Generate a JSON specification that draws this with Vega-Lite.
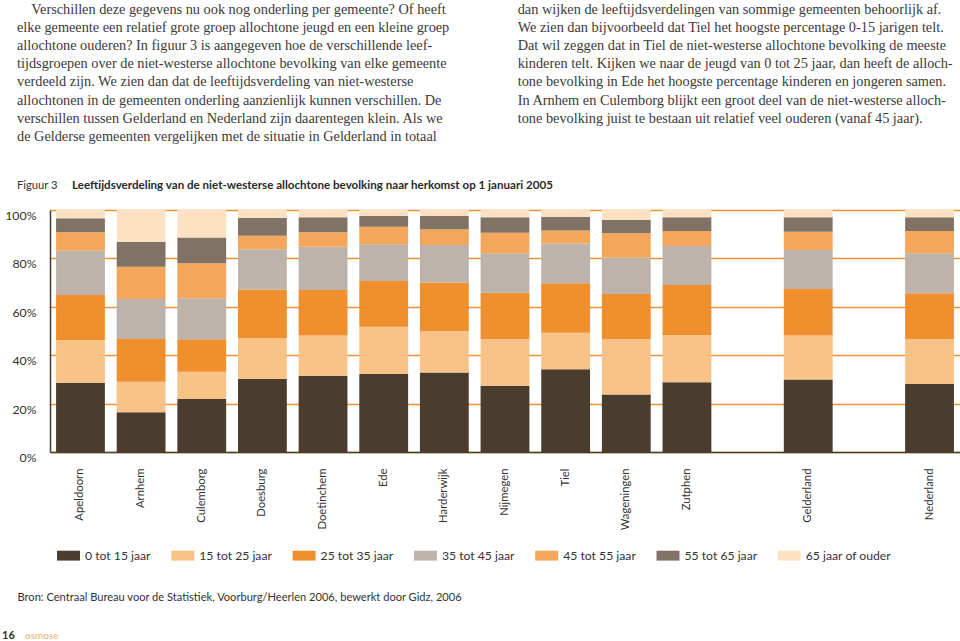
{
  "$schema": "https://vega.github.io/schema/vega-lite/v6.json",
  "width": 910,
  "height": 242,
  "autosize": {"type": "none"},
  "padding": {"left": 50, "top": 210, "right": 0, "bottom": 189},
  "background": "white",
  "config": {"view": {"stroke": null}},
  "datasets": {
    "balken": [
      {"gemeente": "Apeldoorn", "leeftijd": "0 tot 15 jaar", "percentage": 28.6},
      {"gemeente": "Apeldoorn", "leeftijd": "15 tot 25 jaar", "percentage": 17.7},
      {"gemeente": "Apeldoorn", "leeftijd": "25 tot 35 jaar", "percentage": 18.6},
      {"gemeente": "Apeldoorn", "leeftijd": "35 tot 45 jaar", "percentage": 18.3},
      {"gemeente": "Apeldoorn", "leeftijd": "45 tot 55 jaar", "percentage": 7.6},
      {"gemeente": "Apeldoorn", "leeftijd": "55 tot 65 jaar", "percentage": 5.8},
      {"gemeente": "Apeldoorn", "leeftijd": "65 jaar of ouder", "percentage": 3.4},
      {"gemeente": "Arnhem", "leeftijd": "0 tot 15 jaar", "percentage": 16.4},
      {"gemeente": "Arnhem", "leeftijd": "15 tot 25 jaar", "percentage": 12.6},
      {"gemeente": "Arnhem", "leeftijd": "25 tot 35 jaar", "percentage": 17.7},
      {"gemeente": "Arnhem", "leeftijd": "35 tot 45 jaar", "percentage": 16.5},
      {"gemeente": "Arnhem", "leeftijd": "45 tot 55 jaar", "percentage": 13.4},
      {"gemeente": "Arnhem", "leeftijd": "55 tot 65 jaar", "percentage": 10.3},
      {"gemeente": "Arnhem", "leeftijd": "65 jaar of ouder", "percentage": 13.1},
      {"gemeente": "Culemborg", "leeftijd": "0 tot 15 jaar", "percentage": 21.9},
      {"gemeente": "Culemborg", "leeftijd": "15 tot 25 jaar", "percentage": 11.3},
      {"gemeente": "Culemborg", "leeftijd": "25 tot 35 jaar", "percentage": 13.4},
      {"gemeente": "Culemborg", "leeftijd": "35 tot 45 jaar", "percentage": 16.9},
      {"gemeente": "Culemborg", "leeftijd": "45 tot 55 jaar", "percentage": 14.5},
      {"gemeente": "Culemborg", "leeftijd": "55 tot 65 jaar", "percentage": 10.6},
      {"gemeente": "Culemborg", "leeftijd": "65 jaar of ouder", "percentage": 11.4},
      {"gemeente": "Doesburg", "leeftijd": "0 tot 15 jaar", "percentage": 30.2},
      {"gemeente": "Doesburg", "leeftijd": "15 tot 25 jaar", "percentage": 16.8},
      {"gemeente": "Doesburg", "leeftijd": "25 tot 35 jaar", "percentage": 20.2},
      {"gemeente": "Doesburg", "leeftijd": "35 tot 45 jaar", "percentage": 16.6},
      {"gemeente": "Doesburg", "leeftijd": "45 tot 55 jaar", "percentage": 5.6},
      {"gemeente": "Doesburg", "leeftijd": "55 tot 65 jaar", "percentage": 7.4},
      {"gemeente": "Doesburg", "leeftijd": "65 jaar of ouder", "percentage": 3.2},
      {"gemeente": "Doetinchem", "leeftijd": "0 tot 15 jaar", "percentage": 31.5},
      {"gemeente": "Doetinchem", "leeftijd": "15 tot 25 jaar", "percentage": 16.6},
      {"gemeente": "Doetinchem", "leeftijd": "25 tot 35 jaar", "percentage": 18.8},
      {"gemeente": "Doetinchem", "leeftijd": "35 tot 45 jaar", "percentage": 17.9},
      {"gemeente": "Doetinchem", "leeftijd": "45 tot 55 jaar", "percentage": 6.0},
      {"gemeente": "Doetinchem", "leeftijd": "55 tot 65 jaar", "percentage": 6.2},
      {"gemeente": "Doetinchem", "leeftijd": "65 jaar of ouder", "percentage": 3.0},
      {"gemeente": "Ede", "leeftijd": "0 tot 15 jaar", "percentage": 32.2},
      {"gemeente": "Ede", "leeftijd": "15 tot 25 jaar", "percentage": 19.6},
      {"gemeente": "Ede", "leeftijd": "25 tot 35 jaar", "percentage": 18.9},
      {"gemeente": "Ede", "leeftijd": "35 tot 45 jaar", "percentage": 15.1},
      {"gemeente": "Ede", "leeftijd": "45 tot 55 jaar", "percentage": 7.3},
      {"gemeente": "Ede", "leeftijd": "55 tot 65 jaar", "percentage": 4.4},
      {"gemeente": "Ede", "leeftijd": "65 jaar of ouder", "percentage": 2.5},
      {"gemeente": "Harderwijk", "leeftijd": "0 tot 15 jaar", "percentage": 32.9},
      {"gemeente": "Harderwijk", "leeftijd": "15 tot 25 jaar", "percentage": 17.1},
      {"gemeente": "Harderwijk", "leeftijd": "25 tot 35 jaar", "percentage": 20.0},
      {"gemeente": "Harderwijk", "leeftijd": "35 tot 45 jaar", "percentage": 15.5},
      {"gemeente": "Harderwijk", "leeftijd": "45 tot 55 jaar", "percentage": 6.5},
      {"gemeente": "Harderwijk", "leeftijd": "55 tot 65 jaar", "percentage": 5.5},
      {"gemeente": "Harderwijk", "leeftijd": "65 jaar of ouder", "percentage": 2.5},
      {"gemeente": "Nijmegen", "leeftijd": "0 tot 15 jaar", "percentage": 27.4},
      {"gemeente": "Nijmegen", "leeftijd": "15 tot 25 jaar", "percentage": 19.2},
      {"gemeente": "Nijmegen", "leeftijd": "25 tot 35 jaar", "percentage": 19.2},
      {"gemeente": "Nijmegen", "leeftijd": "35 tot 45 jaar", "percentage": 16.3},
      {"gemeente": "Nijmegen", "leeftijd": "45 tot 55 jaar", "percentage": 8.5},
      {"gemeente": "Nijmegen", "leeftijd": "55 tot 65 jaar", "percentage": 6.4},
      {"gemeente": "Nijmegen", "leeftijd": "65 jaar of ouder", "percentage": 3.0},
      {"gemeente": "Tiel", "leeftijd": "0 tot 15 jaar", "percentage": 34.2},
      {"gemeente": "Tiel", "leeftijd": "15 tot 25 jaar", "percentage": 15.1},
      {"gemeente": "Tiel", "leeftijd": "25 tot 35 jaar", "percentage": 20.4},
      {"gemeente": "Tiel", "leeftijd": "35 tot 45 jaar", "percentage": 16.5},
      {"gemeente": "Tiel", "leeftijd": "45 tot 55 jaar", "percentage": 5.3},
      {"gemeente": "Tiel", "leeftijd": "55 tot 65 jaar", "percentage": 5.7},
      {"gemeente": "Tiel", "leeftijd": "65 jaar of ouder", "percentage": 2.8},
      {"gemeente": "Wageningen", "leeftijd": "0 tot 15 jaar", "percentage": 23.8},
      {"gemeente": "Wageningen", "leeftijd": "15 tot 25 jaar", "percentage": 22.8},
      {"gemeente": "Wageningen", "leeftijd": "25 tot 35 jaar", "percentage": 18.7},
      {"gemeente": "Wageningen", "leeftijd": "35 tot 45 jaar", "percentage": 15.1},
      {"gemeente": "Wageningen", "leeftijd": "45 tot 55 jaar", "percentage": 10.0},
      {"gemeente": "Wageningen", "leeftijd": "55 tot 65 jaar", "percentage": 5.5},
      {"gemeente": "Wageningen", "leeftijd": "65 jaar of ouder", "percentage": 4.1},
      {"gemeente": "Zutphen", "leeftijd": "0 tot 15 jaar", "percentage": 28.8},
      {"gemeente": "Zutphen", "leeftijd": "15 tot 25 jaar", "percentage": 19.5},
      {"gemeente": "Zutphen", "leeftijd": "25 tot 35 jaar", "percentage": 20.7},
      {"gemeente": "Zutphen", "leeftijd": "35 tot 45 jaar", "percentage": 16.1},
      {"gemeente": "Zutphen", "leeftijd": "45 tot 55 jaar", "percentage": 6.2},
      {"gemeente": "Zutphen", "leeftijd": "55 tot 65 jaar", "percentage": 5.7},
      {"gemeente": "Zutphen", "leeftijd": "65 jaar of ouder", "percentage": 3.0},
      {"gemeente": "Gelderland", "leeftijd": "0 tot 15 jaar", "percentage": 30.0},
      {"gemeente": "Gelderland", "leeftijd": "15 tot 25 jaar", "percentage": 18.1},
      {"gemeente": "Gelderland", "leeftijd": "25 tot 35 jaar", "percentage": 19.3},
      {"gemeente": "Gelderland", "leeftijd": "35 tot 45 jaar", "percentage": 16.1},
      {"gemeente": "Gelderland", "leeftijd": "45 tot 55 jaar", "percentage": 7.5},
      {"gemeente": "Gelderland", "leeftijd": "55 tot 65 jaar", "percentage": 6.0},
      {"gemeente": "Gelderland", "leeftijd": "65 jaar of ouder", "percentage": 3.0},
      {"gemeente": "Nederland", "leeftijd": "0 tot 15 jaar", "percentage": 28.1},
      {"gemeente": "Nederland", "leeftijd": "15 tot 25 jaar", "percentage": 18.6},
      {"gemeente": "Nederland", "leeftijd": "25 tot 35 jaar", "percentage": 18.9},
      {"gemeente": "Nederland", "leeftijd": "35 tot 45 jaar", "percentage": 16.5},
      {"gemeente": "Nederland", "leeftijd": "45 tot 55 jaar", "percentage": 9.2},
      {"gemeente": "Nederland", "leeftijd": "55 tot 65 jaar", "percentage": 5.7},
      {"gemeente": "Nederland", "leeftijd": "65 jaar of ouder", "percentage": 3.0}
    ],
    "alineas": [
      {"kolom": "links", "regel": 1, "tekst": "\u200b\u2003Verschillen deze gegevens nu ook nog onderling per gemeente? Of heeft"},
      {"kolom": "links", "regel": 2, "tekst": "elke gemeente een relatief grote groep allochtone jeugd en een kleine groep"},
      {"kolom": "links", "regel": 3, "tekst": "allochtone ouderen? In figuur 3 is aangegeven hoe de verschillende leef-"},
      {"kolom": "links", "regel": 4, "tekst": "tijdsgroepen over de niet-westerse allochtone bevolking van elke gemeente"},
      {"kolom": "links", "regel": 5, "tekst": "verdeeld zijn. We zien dan dat de leeftijdsverdeling van niet-westerse"},
      {"kolom": "links", "regel": 6, "tekst": "allochtonen in de gemeenten onderling aanzienlijk kunnen verschillen. De"},
      {"kolom": "links", "regel": 7, "tekst": "verschillen tussen Gelderland en Nederland zijn daarentegen klein. Als we"},
      {"kolom": "links", "regel": 8, "tekst": "de Gelderse gemeenten vergelijken met de situatie in Gelderland in totaal"},
      {"kolom": "rechts", "regel": 1, "tekst": "dan wijken de leeftijdsverdelingen van sommige gemeenten behoorlijk af."},
      {"kolom": "rechts", "regel": 2, "tekst": "We zien dan bijvoorbeeld dat Tiel het hoogste percentage 0-15 jarigen telt."},
      {"kolom": "rechts", "regel": 3, "tekst": "Dat wil zeggen dat in Tiel de niet-westerse allochtone bevolking de meeste"},
      {"kolom": "rechts", "regel": 4, "tekst": "kinderen telt. Kijken we naar de jeugd van 0 tot 25 jaar, dan heeft de alloch-"},
      {"kolom": "rechts", "regel": 5, "tekst": "tone bevolking in Ede het hoogste percentage kinderen en jongeren samen."},
      {"kolom": "rechts", "regel": 6, "tekst": "In Arnhem en Culemborg blijkt een groot deel van de niet-westerse alloch-"},
      {"kolom": "rechts", "regel": 7, "tekst": "tone bevolking juist te bestaan uit relatief veel ouderen (vanaf 45 jaar)."}
    ],
    "bijschrift": [
      {"deel": "nummer", "tekst": "Figuur 3"},
      {"deel": "titel", "tekst": "Leeftijdsverdeling van de niet-westerse allochtone bevolking naar herkomst op 1 januari 2005"}
    ],
    "voet": [
      {"deel": "pagina", "tekst": "16"},
      {"deel": "blad", "tekst": "osmose"}
    ]
  },
  "layer": [
    {
      "data": {"name": "balken"},
      "mark": {"type": "bar"},
      "encoding": {
        "x": {
          "field": "gemeente",
          "type": "nominal",
          "scale": {
            "domain": ["Apeldoorn", "Arnhem", "Culemborg", "Doesburg", "Doetinchem", "Ede", "Harderwijk", "Nijmegen", "Tiel", "Wageningen", "Zutphen", " ", "Gelderland", "  ", "Nederland"],
            "paddingInner": 0.195,
            "paddingOuter": 0.1
          },
          "axis": {
            "title": "Bron: Centraal Bureau voor de Statistiek, Voorburg/Heerlen 2006, bewerkt door Gidz, 2006",
            "titleX": -33,
            "titleY": 145,
            "titleAlign": "left",
            "titleAnchor": "start",
            "titleBaseline": "middle",
            "titleFont": "Lato",
            "titleFontSize": 11.1,
            "titleFontWeight": "normal",
            "titleColor": "#333333",
            "labelAngle": -90,
            "labelPadding": 16,
            "labelFont": "Lato",
            "labelFontSize": 11.3,
            "labelColor": "#333333",
            "ticks": false,
            "domainColor": "#4B3D2C",
            "domainWidth": 1.5
          }
        },
        "y": {
          "field": "percentage",
          "type": "quantitative",
          "stack": "normalize",
          "scale": {"domain": [0, 1]},
          "axis": {
            "title": null,
            "values": [0, 0.2, 0.4, 0.6, 0.8, 1],
            "format": ".0%",
            "grid": true,
            "gridColor": "#E8923A",
            "gridWidth": 1.5,
            "ticks": false,
            "domainColor": "#4B3D2C",
            "domainWidth": 1.5,
            "labelPadding": 14,
            "labelOffset": 5.5,
            "labelFont": "Lato",
            "labelFontSize": 12.3,
            "labelColor": "#333333"
          }
        },
        "color": {
          "field": "leeftijd",
          "type": "nominal",
          "scale": {
            "domain": ["0 tot 15 jaar", "15 tot 25 jaar", "25 tot 35 jaar", "35 tot 45 jaar", "45 tot 55 jaar", "55 tot 65 jaar", "65 jaar of ouder"],
            "range": ["#4A3D2E", "#F9C286", "#EF8F2E", "#BDB3AA", "#F4A65A", "#807366", "#FCE2C2"]
          },
          "legend": {
            "orient": "none",
            "legendX": 7,
            "legendY": 334,
            "direction": "horizontal",
            "columns": 7,
            "title": null,
            "symbolType": "M-1,-0.43L1,-0.43L1,0.43L-1,0.43Z",
            "symbolSize": 529,
            "symbolStrokeWidth": 0,
            "symbolOpacity": 1,
            "labelFont": "Lato",
            "labelFontSize": 12.2,
            "labelColor": "#333333",
            "labelOffset": 5,
            "columnPadding": 20.3
          }
        },
        "order": {"field": "leeftijd", "type": "nominal", "sort": "ascending"}
      }
    },
    {
      "data": {"name": "alineas"},
      "mark": {"type": "text", "align": "left", "baseline": "middle", "font": "Liberation Serif", "fontSize": 14.3, "color": "#3A3A3A"},
      "encoding": {
        "x": {"field": "kolom", "type": "nominal", "scale": {"type": "point", "domain": ["links", "rechts"], "range": [-33, 467.7], "padding": 0}, "axis": null},
        "y": {"field": "regel", "type": "ordinal", "scale": {"type": "point", "domain": [1, 2, 3, 4, 5, 6, 7, 8], "range": [-200, -73.2], "padding": 0}, "axis": null},
        "text": {"field": "tekst"}
      }
    },
    {
      "data": {"name": "bijschrift"},
      "encoding": {
        "x": {"field": "deel", "type": "nominal", "scale": {"type": "point", "domain": ["nummer", "titel"], "range": [-33, 22], "padding": 0}, "axis": null},
        "y": {"datum": "bijschrift", "type": "nominal", "scale": {"type": "point", "domain": ["bijschrift"], "range": [-24, -24], "padding": 0}, "axis": null},
        "text": {"field": "tekst"}
      },
      "layer": [
        {
          "transform": [{"filter": "datum.deel === 'nummer'"}],
          "mark": {"type": "text", "align": "left", "baseline": "middle", "font": "Lato", "fontSize": 11.2, "color": "#333333"}
        },
        {
          "transform": [{"filter": "datum.deel === 'titel'"}],
          "mark": {"type": "text", "align": "left", "baseline": "middle", "font": "Lato", "fontSize": 11.6, "fontWeight": "bold", "color": "#2A2A2A"}
        }
      ]
    },
    {
      "data": {"name": "voet"},
      "encoding": {
        "x": {"field": "deel", "type": "nominal", "scale": {"type": "point", "domain": ["pagina", "blad"], "range": [-48, -25], "padding": 0}, "axis": null},
        "y": {"datum": "voet", "type": "nominal", "scale": {"type": "point", "domain": ["voet"], "range": [426, 426], "padding": 0}, "axis": null},
        "text": {"field": "tekst"}
      },
      "layer": [
        {
          "transform": [{"filter": "datum.deel === 'pagina'"}],
          "mark": {"type": "text", "align": "left", "baseline": "middle", "font": "Lato", "fontSize": 11, "fontWeight": "bold", "color": "#333333"}
        },
        {
          "transform": [{"filter": "datum.deel === 'blad'"}],
          "mark": {"type": "text", "align": "left", "baseline": "middle", "font": "Lato", "fontSize": 10, "color": "#E8AE72"}
        }
      ]
    }
  ],
  "resolve": {"scale": {"x": "independent", "y": "independent"}, "axis": {"x": "independent", "y": "independent"}}
}
